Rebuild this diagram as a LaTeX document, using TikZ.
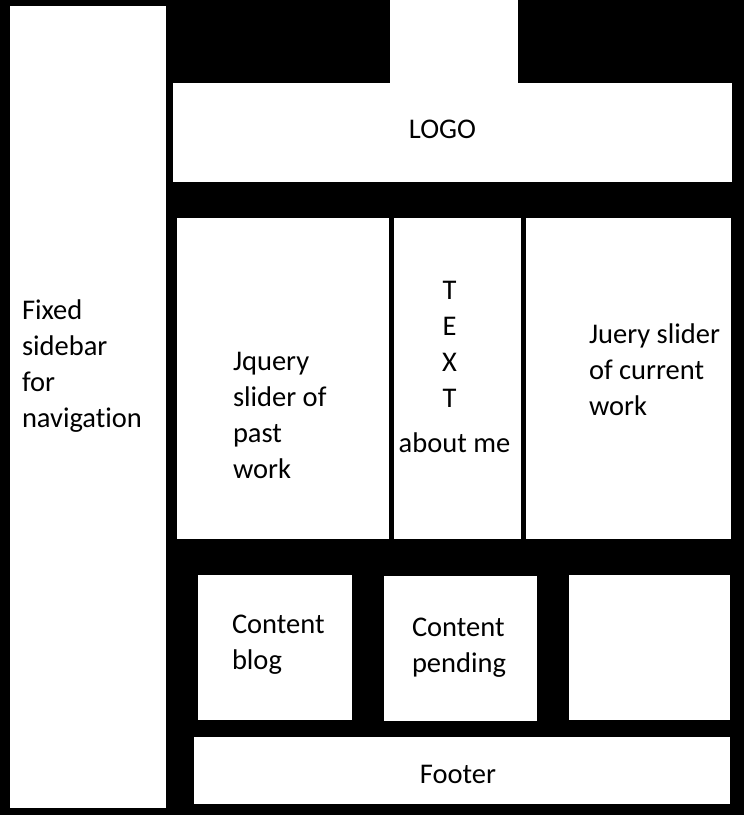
\documentclass[tikz,border=0pt]{standalone}
\usepackage{fontspec}
\setmainfont{Carlito}[Ligatures=NoCommon]
\newcommand\leftlines[1]{\vtop{\baselineskip=36pt\halign{##\hfil\cr#1\crcr}}}
\newcommand\midlines[1]{\vtop{\baselineskip=36pt\halign{\hfil##\hfil\cr#1\crcr}}}
\tikzset{
  wbox/.style={fill=white, draw=none, inner sep=0pt, outer sep=0pt, anchor=north west},
  txt/.style={inner sep=0pt, outer sep=0pt, text=black, font=\fontsize{28.5}{36}\selectfont},
}
\begin{document}
\begin{tikzpicture}[x=1pt,y=-1pt]
\fill[black] (0,0) rectangle (744,815);
% white panels
\node[wbox, minimum width=156pt, minimum height=802pt] (side) at (10,6) {};
\node[wbox, minimum width=128pt, minimum height=84pt] (notch) at (390,0) {};
\node[wbox, minimum width=559pt, minimum height=99pt] (logo) at (173,83) {};
\node[wbox, minimum width=212pt, minimum height=321pt] (past) at (177,218) {};
\node[wbox, minimum width=127pt, minimum height=321pt] (about) at (394,218) {};
\node[wbox, minimum width=205pt, minimum height=321pt] (current) at (526,218) {};
\node[wbox, minimum width=154pt, minimum height=145pt] (blog) at (198,575) {};
\node[wbox, minimum width=153pt, minimum height=145pt] (pending) at (384,576) {};
\node[wbox, minimum width=161pt, minimum height=145pt] (empty) at (569,575) {};
\node[wbox, minimum width=536pt, minimum height=67pt] (footer) at (194,737) {};
% texts
\node[txt, anchor=base west] (sidetxt) at (22,319) {\leftlines{Fixed\cr sidebar\cr for\cr navigation}};
\node[txt, anchor=base] (logotxt) at (442.5,138) {LOGO};
\node[txt, anchor=base west] (pasttxt) at (233,370) {\leftlines{Jquery\cr slider of\cr past\cr work}};
\node[txt, anchor=base] (abouttxt) at (454.5,299) {\midlines{T\kern10pt\cr E\kern10pt\cr X\kern10pt\cr T\kern10pt\cr\noalign{\vskip9pt} about me}};
\node[txt, anchor=base west] (currenttxt) at (589,343) {\leftlines{Juery slider\cr of current\cr work}};
\node[txt, anchor=base west] (blogtxt) at (232,633) {\leftlines{Content\cr blog}};
\node[txt, anchor=base west] (pendingtxt) at (412,636) {\leftlines{Content\cr pending}};
\node[txt, anchor=base] (footertxt) at (458,783) {Footer};
\end{tikzpicture}
\end{document}
